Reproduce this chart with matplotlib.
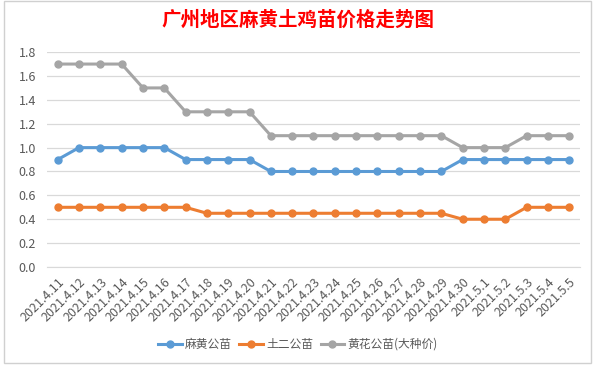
import matplotlib
matplotlib.use('Agg')
import matplotlib.pyplot as plt
from matplotlib.patches import Rectangle

plt.rcParams['font.family'] = ['Noto Sans CJK SC', 'DejaVu Sans']

dates = ['2021.4.11', '2021.4.12', '2021.4.13', '2021.4.14', '2021.4.15', '2021.4.16',
         '2021.4.17', '2021.4.18', '2021.4.19', '2021.4.20', '2021.4.21', '2021.4.22',
         '2021.4.23', '2021.4.24', '2021.4.25', '2021.4.26', '2021.4.27', '2021.4.28',
         '2021.4.29', '2021.4.30', '2021.5.1', '2021.5.2', '2021.5.3', '2021.5.4', '2021.5.5']

mahuang = [0.9, 1.0, 1.0, 1.0, 1.0, 1.0, 0.9, 0.9, 0.9, 0.9, 0.8, 0.8, 0.8,
           0.8, 0.8, 0.8, 0.8, 0.8, 0.8, 0.9, 0.9, 0.9, 0.9, 0.9, 0.9]
tuer = [0.5, 0.5, 0.5, 0.5, 0.5, 0.5, 0.5, 0.45, 0.45, 0.45, 0.45, 0.45, 0.45,
        0.45, 0.45, 0.45, 0.45, 0.45, 0.45, 0.4, 0.4, 0.4, 0.5, 0.5, 0.5]
huanghua = [1.7, 1.7, 1.7, 1.7, 1.5, 1.5, 1.3, 1.3, 1.3, 1.3, 1.1, 1.1, 1.1,
            1.1, 1.1, 1.1, 1.1, 1.1, 1.1, 1.0, 1.0, 1.0, 1.1, 1.1, 1.1]

names = ['麻黄公苗', '土二公苗', '黄花公苗(大种价)']
colors = ['#5B9BD5', '#ED7D31', '#A5A5A5']

fig = plt.figure(figsize=(5.96, 3.67), dpi=100)
fig.patches.append(Rectangle((0.006, 0.012), 0.985, 0.985, transform=fig.transFigure,
                             fill=False, edgecolor='#d0d0d0', lw=1))

ax = fig.add_axes([0.079, 0.2725, 0.894, 0.5855])
x = list(range(len(dates)))
for ys, name, c in zip([mahuang, tuer, huanghua], names, colors):
    ax.plot(x, ys, color=c, lw=2.2, marker='o', markersize=5, label=name)

ax.set_xlim(-0.5, len(dates) - 0.5)
ax.set_ylim(0, 1.8)
ax.set_yticks([i * 0.2 for i in range(10)])
ax.set_yticklabels(['%.1f' % (i * 0.2) for i in range(10)])
ax.grid(axis='y', color='#d9d9d9', lw=0.9)
ax.set_axisbelow(True)
for s in ['top', 'right', 'left']:
    ax.spines[s].set_visible(False)
ax.spines['bottom'].set_color('#d9d9d9')
ax.set_xticks(x)
ax.set_xticklabels(dates, rotation=45, ha='right', rotation_mode='anchor')
ax.tick_params(axis='both', length=0, labelsize=9, colors='#595959')
ax.tick_params(axis='x', pad=6)
ax.tick_params(axis='y', pad=8)

fig.text(0.5, 0.945, '广州地区麻黄土鸡苗价格走势图', ha='center', va='center',
         color='#FF0000', fontsize=14, fontweight='bold')

fig.legend(loc='center', bbox_to_anchor=(0.5, 0.062), ncol=3, frameon=False,
           fontsize=8.5, handlelength=2.0, columnspacing=0.6, handletextpad=0.3,
           labelcolor='#595959')

fig.savefig('out.png', dpi=100)
